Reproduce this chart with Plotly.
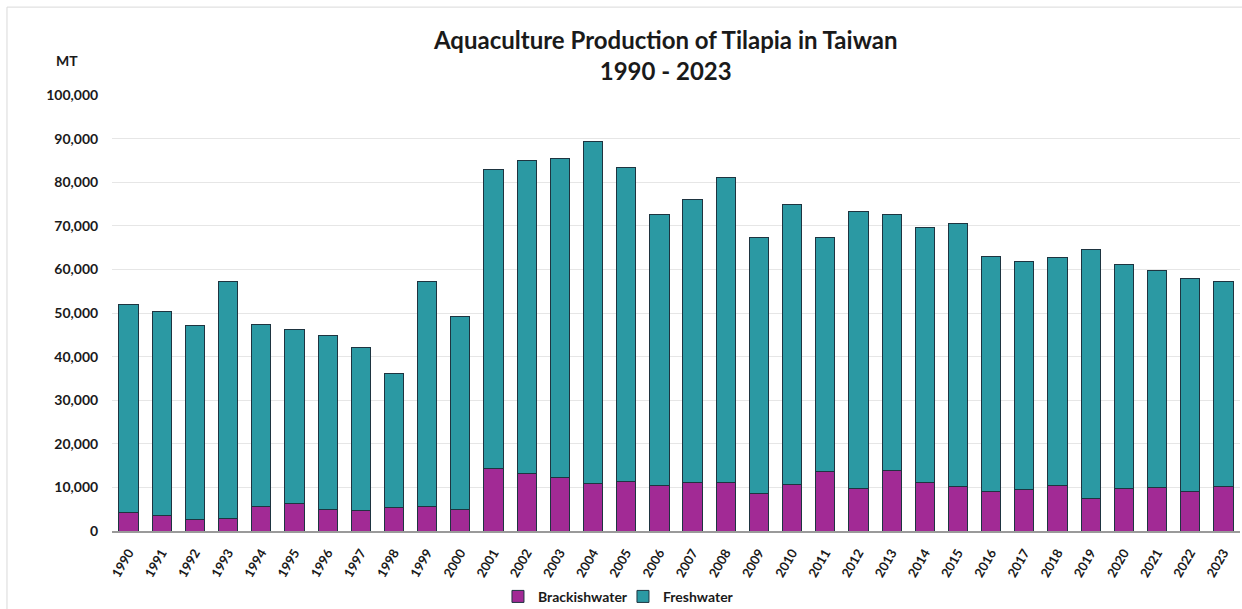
import plotly.graph_objects as go

# Tilapia aquaculture production in Taiwan, metric tonnes
years = [str(y) for y in range(1990, 2024)]

brackishwater = [
    4200, 3630, 2570, 2870, 5690, 6310, 4930, 4770, 5390, 5550, 4930,
    14270, 13260, 12340, 10900, 11360, 10440, 11200, 11130, 8600, 10740,
    13720, 9750, 13810, 11130, 10210, 9000, 9520, 10510, 7530, 9750,
    10050, 9000, 10140,
]

freshwater = [
    47840, 46810, 44650, 54310, 41690, 40000, 39860, 37410, 30750, 51630, 44290,
    68610, 71830, 73060, 78480, 72120, 62180, 64940, 69920, 58750, 64180,
    53560, 63560, 58750, 58580, 60350, 54060, 52250, 52180, 57060, 51330,
    49790, 48870, 47040,
]

y_ticks = list(range(0, 100001, 10000))
y_tick_text = [f"{v:,}" for v in y_ticks]

BRACKISH_COLOR = "#A22A95"
FRESH_COLOR = "#2B99A3"
OUTLINE = "#1E3440"
TEXT = "#1A1A1A"

fig = go.Figure()
fig.add_trace(go.Bar(
    x=years, y=brackishwater, name="Brackishwater",
    marker=dict(color=BRACKISH_COLOR, line=dict(color=OUTLINE, width=1)),
))
fig.add_trace(go.Bar(
    x=years, y=freshwater, name="Freshwater",
    marker=dict(color=FRESH_COLOR, line=dict(color=OUTLINE, width=1)),
))

fig.update_layout(
    barmode="stack",
    bargap=0.42,
    width=1242,
    height=609,
    margin=dict(l=112, r=2, t=95, b=78, autoexpand=False),
    paper_bgcolor="white",
    plot_bgcolor="white",
    font=dict(family="Lato", color=TEXT, size=14, weight="bold"),
    title=dict(
        text="Aquaculture Production of Tilapia in Taiwan<br>1990 - 2023",
        x=0.536, xanchor="center",
        yref="container", y=0.92, yanchor="middle",
        font=dict(family="Lato", size=24, color=TEXT, weight="bold"),
    ),
    showlegend=True,
    legend=dict(
        orientation="h",
        x=0.453, xanchor="center",
        yref="container", y=0.02, yanchor="middle",
        font=dict(family="Lato", size=14, color=TEXT, weight="bold"),
        traceorder="normal",
        itemwidth=30,
        entrywidth=80,
    ),
    xaxis=dict(
        type="category",
        tickangle=-60,
        tickfont=dict(family="Lato", size=13, color=TEXT, weight="bold"),
        showgrid=False,
        showline=True,
        linecolor="#9A9A9A",
        linewidth=2,
        ticks="outside",
        ticklen=7,
        tickcolor="rgba(0,0,0,0)",
        automargin=False,
    ),
    yaxis=dict(
        range=[0, 100000],
        tickvals=y_ticks,
        ticktext=y_tick_text,
        tickfont=dict(family="Lato", size=14, color=TEXT, weight="bold"),
        showgrid=True,
        gridcolor="#E6E6E6",
        gridwidth=1,
        zeroline=False,
        showline=False,
        ticks="outside",
        ticklen=10,
        tickcolor="rgba(0,0,0,0)",
        automargin=False,
    ),
)

# Unit label above the value axis
fig.add_annotation(
    text="MT", xref="paper", yref="paper",
    x=-0.040, y=1.078, xanchor="center", yanchor="middle",
    showarrow=False,
    font=dict(family="Lato", size=14, color=TEXT, weight="bold"),
)

# Light frame around the chart area
fig.add_shape(
    type="rect", xref="paper", yref="paper",
    x0=-0.0931, x1=1.05, y0=-0.4, y1=1.2016,
    line=dict(color="#D9D9D9", width=1),
    layer="below",
)

fig.write_html("out.html")
